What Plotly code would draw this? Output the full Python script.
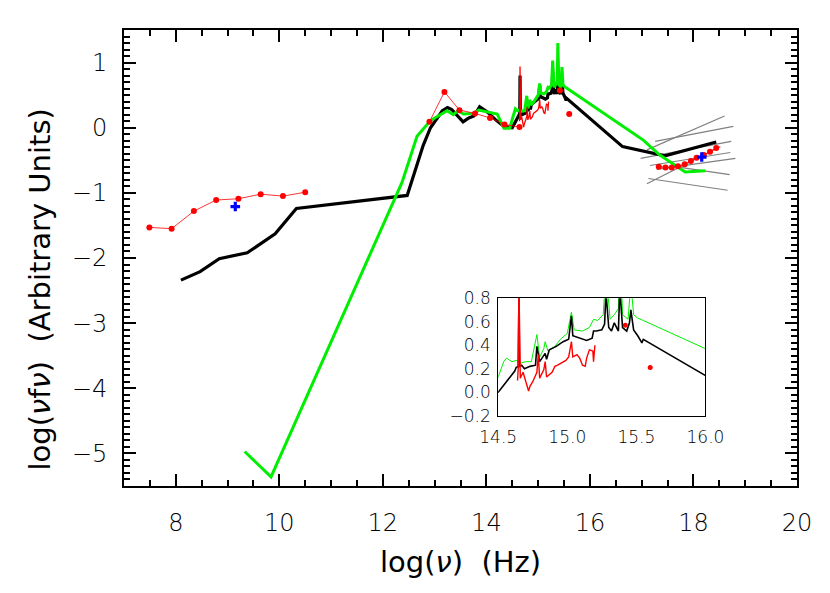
import plotly.graph_objects as go

# black model: radio / IR part
black_sed_x = [8.10, 8.47, 8.84, 9.38, 9.92, 10.33, 12.47, 12.78, 12.92, 13.15, 13.25, 13.33,
               13.55, 13.66, 13.76, 13.87, 14.02, 14.18, 14.34, 14.47]
black_sed_y = [-2.34, -2.21, -2.01, -1.92, -1.63, -1.24, -1.04, -0.27, 0.0, 0.26, 0.31, 0.28,
               0.09, 0.15, 0.18, 0.32, 0.24, 0.12, 0.02, 0.0]
# black optical/UV spectrum
black_opt_x = [14.50, 14.62, 14.63, 14.645, 14.65, 14.655, 14.67, 14.69, 14.73, 14.77, 14.78, 14.80,
               14.84, 14.85, 14.87, 14.92, 14.97, 15.01, 15.03, 15.04, 15.09, 15.14, 15.18, 15.19,
               15.21, 15.25, 15.27, 15.28, 15.30, 15.32, 15.34, 15.37, 15.38, 15.40, 15.43, 15.45,
               15.46, 15.48, 15.51, 15.54, 15.55]
black_opt_y = [0.0, 0.18, 0.21, 0.22, 0.80, 0.22, 0.23, 0.20, 0.22, 0.23, 0.39, 0.26,
               0.33, 0.28, 0.36, 0.39, 0.43, 0.45, 0.65, 0.48, 0.46, 0.44, 0.46, 0.52,
               0.52, 0.53, 0.58, 0.85, 0.55, 0.52, 0.59, 0.52, 0.88, 0.55, 0.52, 0.59,
               0.70, 0.53, 0.48, 0.42, 0.45]
black_xray_x = [16.0, 16.63, 17.45, 18.44]
black_xray_y = [0.14, -0.29, -0.43, -0.22]

# green model
green_sed_x = [9.33, 9.84, 12.37, 12.66, 12.92, 13.24, 13.36, 13.45, 13.56, 13.76, 13.85, 14.21,
               14.34, 14.45]
green_sed_y = [-4.97, -5.36, -0.84, -0.13, 0.11, 0.26, 0.20, 0.26, 0.21, 0.22, 0.27, 0.21,
               -0.01, -0.01]
green_opt_x = [14.50, 14.54, 14.56, 14.60, 14.63, 14.67, 14.70, 14.74, 14.78, 14.80, 14.83, 14.84,
               14.86, 14.91, 14.95, 15.00, 15.03, 15.05, 15.11, 15.16, 15.19, 15.22, 15.26, 15.28,
               15.31, 15.34, 15.37, 15.38, 15.40, 15.44, 15.46, 15.48, 15.51, 15.55]
green_opt_y = [0.13, 0.26, 0.29, 0.26, 0.27, 0.25, 0.26, 0.26, 0.49, 0.30, 0.37, 0.43,
               0.35, 0.39, 0.45, 0.50, 0.68, 0.53, 0.52, 0.55, 0.62, 0.61, 0.66, 1.03,
               0.62, 0.66, 0.71, 1.30, 0.66, 0.62, 0.93, 0.66, 0.63, 0.61]
green_xray_x = [16.0, 17.03, 17.35, 17.71, 17.84, 18.23]
green_xray_y = [0.37, -0.19, -0.42, -0.62, -0.68, -0.66]

# red observed data
red_radio_x = [7.49, 7.92, 8.35, 8.78, 9.21, 9.64, 10.07, 10.50]
red_radio_y = [-1.53, -1.55, -1.28, -1.11, -1.09, -1.02, -1.05, -0.99]
red_ir_x = [12.90, 13.19, 13.48, 13.78, 14.07, 14.35, 14.64]
red_ir_y = [0.09, 0.55, 0.27, 0.22, 0.15, 0.05, 0.01]
red_spec_x = [14.64, 14.645, 14.65, 14.655, 14.66, 14.68, 14.70, 14.72, 14.73, 14.75, 14.78, 14.79,
              14.80, 14.83, 14.84, 14.85, 14.89, 14.91, 14.93, 14.97, 14.99, 15.01, 15.03, 15.04,
              15.07, 15.09, 15.11, 15.13, 15.14, 15.16, 15.185, 15.19, 15.20]
red_spec_y = [0.10, 0.20, 0.94, 0.26, 0.12, 0.17, 0.09, 0.01, 0.05, 0.09, 0.17, 0.32,
              0.12, 0.19, 0.26, 0.13, 0.17, 0.22, 0.23, 0.26, 0.27, 0.30, 0.43, 0.30,
              0.32, 0.29, 0.23, 0.22, 0.29, 0.36, 0.35, 0.26, 0.40]
red_uv_x = [15.42, 15.60]
red_uv_y = [0.57, 0.21]
red_xray_x = [17.33, 17.46, 17.58, 17.70, 17.83, 17.95, 18.06, 18.20, 18.32, 18.44]
red_xray_y = [-0.60, -0.61, -0.61, -0.59, -0.56, -0.51, -0.46, -0.42, -0.37, -0.31]

blue_x = [9.15, 18.16]
blue_y = [-1.21, -0.45]

# x-ray power-law bowtie segments
gray_x0 = [17.26, 17.10, 16.98, 17.16, 17.29, 17.10, 17.58, 17.13]
gray_y0 = [-0.21, -0.34, -0.47, -0.58, -0.64, -0.86, -0.59, -0.78]
gray_x1 = [18.77, 18.60, 18.73, 18.71, 18.81, 18.52, 18.70, 18.66]
gray_y1 = [0.02, 0.18, -0.21, -0.38, -0.47, -0.29, -0.72, -0.96]

gx, gy = [], []
for a, b, c, d in zip(gray_x0, gray_y0, gray_x1, gray_y1):
    gx += [a, c, None]
    gy += [b, d, None]

black_all_x = black_sed_x + black_opt_x + black_xray_x
black_all_y = black_sed_y + black_opt_y + black_xray_y
green_all_x = green_sed_x + green_opt_x + green_xray_x
green_all_y = green_sed_y + green_opt_y + green_xray_y

RED = '#ff0000'
GREEN = '#00ee00'
FONT = 'DejaVu Sans'
W = 200  # thin digits like the original

fig = go.Figure()

# main panel
fig.add_trace(go.Scatter(x=gx, y=gy, mode='lines', line=dict(color='#808080', width=1.2)))
fig.add_trace(go.Scatter(x=black_all_x, y=black_all_y, mode='lines', line=dict(color='black', width=3.2)))
fig.add_trace(go.Scatter(x=green_all_x, y=green_all_y, mode='lines', line=dict(color=GREEN, width=3)))
for xs, ys in [(red_radio_x, red_radio_y), (red_ir_x, red_ir_y), (red_xray_x, red_xray_y)]:
    fig.add_trace(go.Scatter(x=xs, y=ys, mode='lines+markers', line=dict(color=RED, width=0.8),
                             marker=dict(color=RED, size=6)))
fig.add_trace(go.Scatter(x=red_spec_x, y=red_spec_y, mode='lines', line=dict(color=RED, width=1.3)))
fig.add_trace(go.Scatter(x=red_uv_x, y=red_uv_y, mode='markers', marker=dict(color=RED, size=6)))
fig.add_trace(go.Scatter(x=blue_x, y=blue_y, mode='markers',
                         marker=dict(color='blue', size=8, symbol='cross')))

# inset panel
fig.add_trace(go.Scatter(x=green_all_x, y=green_all_y, mode='lines', line=dict(color=GREEN, width=1),
                         xaxis='x2', yaxis='y2'))
fig.add_trace(go.Scatter(x=black_all_x, y=black_all_y, mode='lines', line=dict(color='black', width=1.6),
                         xaxis='x2', yaxis='y2'))
fig.add_trace(go.Scatter(x=red_spec_x, y=red_spec_y, mode='lines', line=dict(color=RED, width=1.4),
                         xaxis='x2', yaxis='y2'))
fig.add_trace(go.Scatter(x=red_uv_x, y=red_uv_y, mode='markers', marker=dict(color=RED, size=5),
                         xaxis='x2', yaxis='y2'))

main_ax = dict(showline=True, linewidth=2, linecolor='black', mirror='ticks', ticks='inside',
               tickwidth=2, ticklen=12, tickcolor='black', showgrid=False, zeroline=False,
               tickfont=dict(family=FONT, size=24, color='black', weight=W))

fig.update_layout(
    width=830, height=593,
    margin=dict(l=116, r=41, t=16, b=115),
    plot_bgcolor='white', paper_bgcolor='white',
    showlegend=False,
    font=dict(family=FONT, color='black'),
    xaxis=dict(main_ax, range=[7, 20], dtick=2, tick0=8, ticklabelstandoff=14,
               minor=dict(dtick=0.5, ticklen=6, ticks='inside', tickwidth=1.5, tickcolor='black'),
               title=dict(text='log(<i>ν</i>)\u00a0\u00a0(Hz)', font=dict(family=FONT, size=29), standoff=16)),
    yaxis=dict(main_ax, range=[-5.5, 1.5], dtick=1, tick0=0, ticklabelstandoff=10,
               minor=dict(dtick=0.1, ticklen=6, ticks='inside', tickwidth=1.5, tickcolor='black')),
    xaxis2=dict(domain=[0.556, 0.864], anchor='y2', range=[14.5, 16.0], dtick=0.5, tick0=14.5,
                tickformat='.1f', showline=True, linewidth=1, linecolor='black', mirror=True,
                ticks='', showgrid=False, zeroline=False, ticklabelstandoff=6,
                tickfont=dict(family=FONT, size=17, color='black', weight=W)),
    yaxis2=dict(domain=[0.154, 0.412], anchor='x2', range=[-0.2, 0.8], dtick=0.2, tick0=0,
                tickformat='.1f', showline=True, linewidth=1, linecolor='black', mirror=True,
                ticks='', showgrid=False, zeroline=False, ticklabelstandoff=3,
                tickfont=dict(family=FONT, size=17, color='black', weight=W)),
)

# y-axis title placed as annotation (sits a little below the plot centre in the original)
fig.add_annotation(text='log(<i>ν</i>f<i>ν</i>)\u00a0\u00a0(Arbitrary Units)', textangle=-90,
                   xref='paper', yref='paper', x=0, y=0.431, xanchor='center', yanchor='middle',
                   xshift=-84, showarrow=False, font=dict(family=FONT, size=29, color='black'))

fig.write_html("out.html")
